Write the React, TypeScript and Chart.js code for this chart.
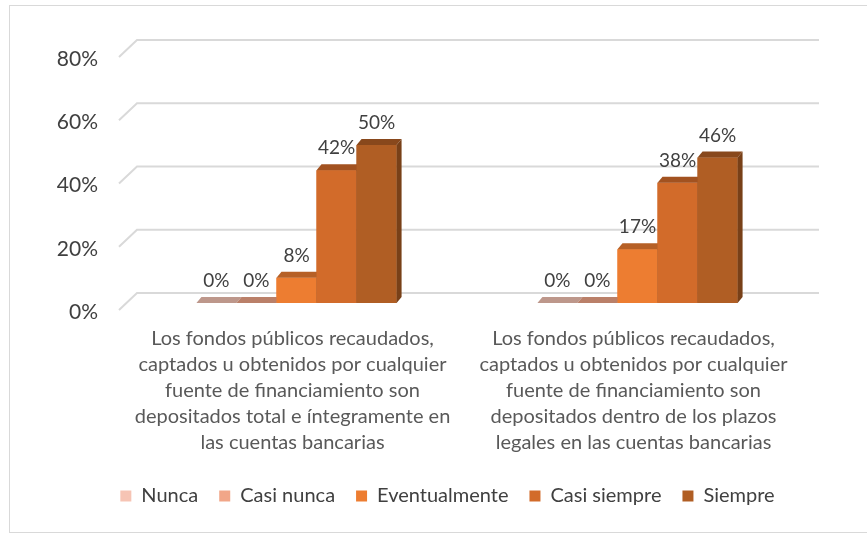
import React, { useEffect, useRef } from 'react';
import { Chart, registerables } from 'chart.js';

Chart.register(...registerables);

const categories: string[][] = [
  [
    'Los fondos públicos recaudados,',
    'captados u obtenidos por cualquier',
    'fuente de financiamiento son',
    'depositados total e íntegramente en',
    'las cuentas bancarias',
  ],
  [
    'Los fondos públicos recaudados,',
    'captados u obtenidos por cualquier',
    'fuente de financiamiento son',
    'depositados dentro de los plazos',
    'legales en las cuentas bancarias',
  ],
];

const seriesNames = ['Nunca', 'Casi nunca', 'Eventualmente', 'Casi siempre', 'Siempre'];
const nunca = [0, 0];
const casiNunca = [0, 0];
const eventualmente = [8, 17];
const casiSiempre = [42, 38];
const siempre = [50, 46];
const yTicks = [0, 20, 40, 60, 80];

const seriesValues = [nunca, casiNunca, eventualmente, casiSiempre, siempre];
const colors = ['#F6C4B4', '#F1A688', '#ED7D31', '#D26B2A', '#B05E24'];

const FONT = 'Lato';
const DX = 5;
const DY = 6;

function shade(hex: string, f: number): string {
  const n = parseInt(hex.slice(1), 16);
  const r = Math.round(((n >> 16) & 255) * f);
  const g = Math.round(((n >> 8) & 255) * f);
  const b = Math.round((n & 255) * f);
  return `rgb(${r},${g},${b})`;
}

const bar3dPlugin = {
  id: 'bar3d',
  afterLayout(chart: any) {
    if (chart.legend) {
      chart.legend.left += 37;
    }
  },
  beforeDatasetsDraw(chart: any) {
    const { ctx, chartArea } = chart;
    const y = chart.scales.y;
    ctx.save();
    ctx.strokeStyle = '#d9d9d9';
    ctx.lineWidth = 2;
    yTicks.forEach((v) => {
      const py = y.getPixelForValue(v);
      ctx.beginPath();
      ctx.moveTo(chartArea.left - 7, py + 7);
      ctx.lineTo(chartArea.left + 11, py - 10);
      ctx.lineTo(chartArea.right + 11, py - 10);
      ctx.stroke();
    });
    ctx.restore();
  },
  afterDatasetsDraw(chart: any) {
    const { ctx } = chart;
    const metas = chart.getSortedVisibleDatasetMetas().slice().sort((a: any, b: any) => a.index - b.index);
    const n = chart.data.labels.length;
    ctx.save();
    for (let j = 0; j < n; j++) {
      metas.forEach((meta: any) => {
        const el = meta.data[j];
        if (!el) return;
        const color = colors[meta.index];
        el.draw(ctx);
        const { x, y, base, width } = el.getProps(['x', 'y', 'base', 'width'], true);
        const l = x - width / 2;
        const r = x + width / 2;
        ctx.fillStyle = shade(color, 0.77);
        ctx.beginPath();
        ctx.moveTo(l, y);
        ctx.lineTo(r, y);
        ctx.lineTo(r + DX, y - DY);
        ctx.lineTo(l + DX, y - DY);
        ctx.closePath();
        ctx.fill();
        if (base - y > 0.5) {
          ctx.fillStyle = shade(color, 0.68);
          ctx.beginPath();
          ctx.moveTo(r, y);
          ctx.lineTo(r + DX, y - DY);
          ctx.lineTo(r + DX, base - DY);
          ctx.lineTo(r, base);
          ctx.closePath();
          ctx.fill();
        }
      });
    }
    ctx.fillStyle = '#404040';
    ctx.font = `19px ${FONT}`;
    ctx.textAlign = 'center';
    ctx.textBaseline = 'middle';
    metas.forEach((meta: any) => {
      meta.data.forEach((el: any, j: number) => {
        const { x, y } = el.getProps(['x', 'y'], true);
        const v = seriesValues[meta.index][j];
        ctx.fillText(`${v}%`, x, y - 22);
      });
    });
    ctx.restore();
  },
};

export default function App() {
  const ref = useRef<HTMLCanvasElement | null>(null);

  useEffect(() => {
    if (!ref.current) return;
    const chart = new Chart(ref.current, {
      type: 'bar',
      data: {
        labels: categories,
        datasets: seriesNames.map((name, i) => ({
          label: name,
          data: seriesValues[i],
          backgroundColor: colors[i],
          borderWidth: 0,
          barPercentage: 1,
          categoryPercentage: 0.587,
        })),
      },
      options: {
        responsive: false,
        animation: false,
        layout: { padding: { left: 40, right: 59, top: 44, bottom: 16 } },
        plugins: {
          tooltip: { enabled: false },
          legend: {
            position: 'bottom',
            align: 'center',
            labels: {
              boxWidth: 11,
              boxHeight: 11,
              padding: 21,
              color: '#404040',
              font: { family: FONT, size: 20 },
            },
          },
        },
        scales: {
          x: {
            grid: { display: false, drawTicks: false },
            border: { display: false },
            ticks: {
              padding: 23,
              labelOffset: -4,
              color: '#595959',
              maxRotation: 0,
              autoSkip: false,
              font: { family: FONT, size: 20, lineHeight: 1.3 },
            },
            afterFit(scale: any) {
              scale.height = 162;
            },
          },
          y: {
            min: 0,
            max: 80,
            grid: { display: false, drawTicks: false },
            border: { display: false },
            ticks: {
              stepSize: 20,
              padding: 28,
              labelOffset: 9,
              color: '#404040',
              font: { family: FONT, size: 21 },
              callback: (v: any) => `${v}%`,
            },
            afterFit(scale: any) {
              scale.width = 76;
            },
          },
        },
      },
      plugins: [bar3dPlugin],
    });
    return () => chart.destroy();
  }, []);

  return (
    <div
      style={{
        position: 'absolute',
        left: 9,
        top: 5,
        width: 857,
        height: 526,
        borderLeft: '1px solid #d9d9d9',
        borderTop: '1px solid #d9d9d9',
        borderBottom: '1px solid #d9d9d9',
        background: '#fff',
      }}
    >
      <canvas ref={ref} width={857} height={526} style={{ display: 'block' }} />
    </div>
  );
}
